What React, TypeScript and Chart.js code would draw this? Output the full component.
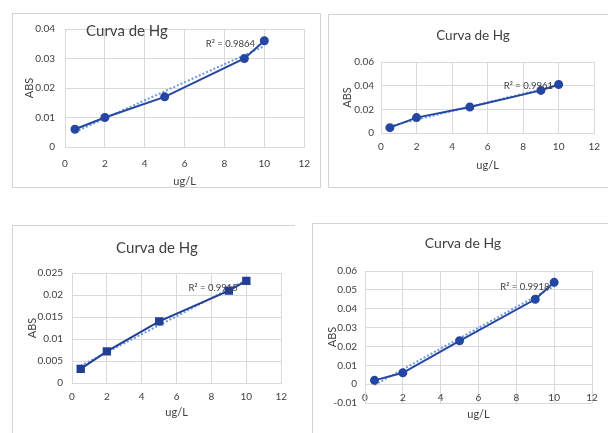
import React, { useEffect, useRef } from "react";
import { Chart, registerables } from "chart.js";

Chart.register(...registerables);

// ---------- data ----------
const concentrations = [0.5, 2, 5, 9, 10];
const absCurve1 = [0.006, 0.01, 0.017, 0.03, 0.036];
const absCurve2 = [0.0045, 0.013, 0.022, 0.036, 0.041];
const absCurve3 = [0.0032, 0.0072, 0.014, 0.021, 0.0232];
const absCurve4 = [0.002, 0.006, 0.023, 0.045, 0.054];

const trendX = [0.5, 10];
const trendCurve1 = [0.0051, 0.0342];
const trendCurve2 = [0.0058, 0.0405];
const trendCurve3 = [0.0039, 0.0234];
const trendCurve4 = [-0.0004, 0.0519];

const r2Labels = ["R² = 0.9864", "R² = 0.9961", "R² = 0.9915", "R² = 0.9918"];
const chartTitle = "Curva de Hg";
const xAxisTitle = "ug/L";
const yAxisTitle = "ABS";

const xRange = [0, 12, 2];
const yRange1 = [0, 0.04, 0.01];
const yRange2 = [0, 0.06, 0.02];
const yRange3 = [0, 0.025, 0.005];
const yRange4 = [-0.01, 0.06, 0.01];

// ---------- styles ----------
const FONT = "Lato, 'Open Sans', sans-serif";
const TEXT = "#404040";
const GRID = "#d9d9d9";
const LINE = "#2546a3";
const TREND = "#6b9bd8";

const labelPlugin = {
  id: "hgLabels",
  afterDatasetsDraw(chart: any, _args: any, opts: any) {
    const { ctx, scales } = chart;
    ctx.save();
    ctx.fillStyle = TEXT;
    ctx.textAlign = "center";
    ctx.textBaseline = "middle";
    ctx.font = `${opts.titleSize}px ${FONT}`;
    ctx.fillText(opts.title, opts.titleX, opts.titleY);
    ctx.font = `${opts.r2Size}px ${FONT}`;
    const x = scales.x.getPixelForValue(opts.r2X);
    const y = scales.y.getPixelForValue(opts.r2Y);
    ctx.fillText(opts.r2Text, x, y);
    ctx.restore();
  },
};

type Spec = {
  frame: { left: number; top: number; width: number; height: number };
  borders: string[];
  ys: number[];
  trend: number[];
  yRange: number[];
  pointStyle: string;
  pointRadius: number;
  lineColor: string;
  padding: { left: number; top: number; right: number; bottom: number };
  yWidth: number;
  xHeight: number;
  xAtZero?: boolean;
  yTickPad: number;
  xTickPad: number;
  yTitlePad: number;
  xTitlePad: number;
  title: { x: number; y: number; size: number };
  r2: { text: string; x: number; y: number; size: number };
};

function fmt(v: number) {
  return String(Number(v.toFixed(4)));
}

function HgChart({ spec }: { spec: Spec }) {
  const ref = useRef<HTMLCanvasElement | null>(null);
  useEffect(() => {
    if (!ref.current) return;
    const s = spec;
    const chart = new Chart(ref.current, {
      type: "scatter",
      data: {
        datasets: [
          {
            data: concentrations.map((x, i) => ({ x, y: s.ys[i] })),
            showLine: true,
            borderColor: s.lineColor,
            backgroundColor: s.lineColor,
            borderWidth: 2,
            pointRadius: s.pointRadius,
            pointStyle: s.pointStyle as any,
            order: 1,
          },
          {
            data: trendX.map((x, i) => ({ x, y: s.trend[i] })),
            showLine: true,
            borderColor: TREND,
            borderDash: [2, 2],
            borderWidth: 2,
            pointRadius: 0,
            order: 2,
          },
        ],
      },
      options: {
        responsive: false,
        animation: false,
        layout: { padding: s.padding },
        plugins: {
          legend: { display: false },
          tooltip: { enabled: false },
          hgLabels: {
            title: chartTitle,
            titleX: s.title.x,
            titleY: s.title.y,
            titleSize: s.title.size,
            r2Text: s.r2.text,
            r2X: s.r2.x,
            r2Y: s.r2.y,
            r2Size: s.r2.size,
          },
        } as any,
        scales: {
          x: {
            type: "linear",
            position: (s.xAtZero ? { y: 0 } : "bottom") as any,
            min: xRange[0],
            max: xRange[1],
            ticks: {
              stepSize: xRange[2],
              padding: s.xTickPad,
              maxRotation: 0,
              font: { family: FONT, size: 10 },
              color: TEXT,
              callback: (v: any) => fmt(Number(v)),
            },
            grid: { color: GRID, drawTicks: false },
            border: { color: GRID },
            title: {
              display: true,
              text: xAxisTitle,
              color: TEXT,
              font: { family: FONT, size: 11 },
              padding: { top: 0, bottom: s.xTitlePad },
            },
            afterFit: (sc: any) => {
              sc.height = s.xHeight;
            },
          },
          y: {
            type: "linear",
            min: s.yRange[0],
            max: s.yRange[1],
            ticks: {
              stepSize: s.yRange[2],
              padding: s.yTickPad,
              font: { family: FONT, size: 10 },
              color: TEXT,
              callback: (v: any) => fmt(Number(v)),
            },
            grid: { color: GRID, drawTicks: false },
            border: { color: GRID },
            title: {
              display: true,
              text: yAxisTitle,
              color: TEXT,
              font: { family: FONT, size: 11 },
              padding: { top: s.yTitlePad, bottom: 0 },
            },
            afterFit: (sc: any) => {
              sc.width = s.yWidth;
            },
          },
        },
      },
      plugins: [labelPlugin as any],
    });
    return () => chart.destroy();
  }, [spec]);

  const f = spec.frame;
  const borderStyle: any = {
    position: "absolute",
    left: f.left,
    top: f.top,
    width: f.width,
    height: f.height,
    boxSizing: "border-box",
    pointerEvents: "none",
  };
  for (const b of spec.borders) {
    borderStyle["border" + b] = "1px solid #d4d4d4";
  }
  return (
    <>
      <canvas
        ref={ref}
        width={f.width}
        height={f.height}
        style={{ position: "absolute", left: f.left, top: f.top, width: f.width, height: f.height, display: "block" }}
      />
      <div style={borderStyle} />
    </>
  );
}

const specs: Spec[] = [
  {
    frame: { left: 12, top: 13, width: 309, height: 175 },
    borders: ["Left", "Top", "Right", "Bottom"],
    ys: absCurve1,
    trend: trendCurve1,
    yRange: yRange1,
    pointStyle: "circle",
    pointRadius: 3.5,
    lineColor: LINE,
    padding: { left: 0, top: 10, right: 12, bottom: 0 },
    yWidth: 53,
    xHeight: 41,
    yTickPad: 10,
    xTickPad: 11,
    yTitlePad: 11,
    xTitlePad: 0,
    title: { x: 115, y: 18, size: 15 },
    r2: { text: r2Labels[0], x: 8.3, y: 0.0348, size: 9.5 },
  },
  {
    frame: { left: 328, top: 14, width: 280, height: 174 },
    borders: ["Left", "Top", "Bottom"],
    ys: absCurve2,
    trend: trendCurve2,
    yRange: yRange2,
    pointStyle: "circle",
    pointRadius: 3.5,
    lineColor: LINE,
    padding: { left: 0, top: 48, right: 5, bottom: 0 },
    yWidth: 53,
    xHeight: 55,
    yTickPad: 7,
    xTickPad: 8,
    yTitlePad: 13,
    xTitlePad: 16,
    title: { x: 145, y: 22, size: 13.5 },
    r2: { text: r2Labels[1], x: 8.3, y: 0.04, size: 9.5 },
  },
  {
    frame: { left: 12, top: 225, width: 283, height: 208 },
    borders: ["Left", "Top"],
    ys: absCurve3,
    trend: trendCurve3,
    yRange: yRange3,
    pointStyle: "rect",
    pointRadius: 4.5,
    lineColor: "#213f95",
    padding: { left: 0, top: 48, right: 13, bottom: 0 },
    yWidth: 60,
    xHeight: 50,
    yTickPad: 9,
    xTickPad: 8,
    yTitlePad: 14,
    xTitlePad: 14,
    title: { x: 145, y: 23, size: 15 },
    r2: { text: r2Labels[2], x: 8.1, y: 0.0216, size: 9.5 },
  },
  {
    frame: { left: 312, top: 223, width: 296, height: 210 },
    borders: ["Left", "Top"],
    ys: absCurve4,
    trend: trendCurve4,
    yRange: yRange4,
    pointStyle: "circle",
    pointRadius: 3.5,
    lineColor: LINE,
    padding: { left: 0, top: 48, right: 16, bottom: 30 },
    yWidth: 53,
    xHeight: 37,
    xAtZero: true,
    yTickPad: 8,
    xTickPad: 8,
    yTitlePad: 14,
    xTitlePad: 0,
    title: { x: 151, y: 20, size: 14 },
    r2: { text: r2Labels[3], x: 8.45, y: 0.0514, size: 9.5 },
  },
];

export default function App() {
  return (
    <div style={{ position: "relative", width: 608, height: 433, background: "#fff", overflow: "hidden" }}>
      <style>{`body{margin:0}`}</style>
      {specs.map((s, i) => (
        <HgChart key={i} spec={s} />
      ))}
    </div>
  );
}
